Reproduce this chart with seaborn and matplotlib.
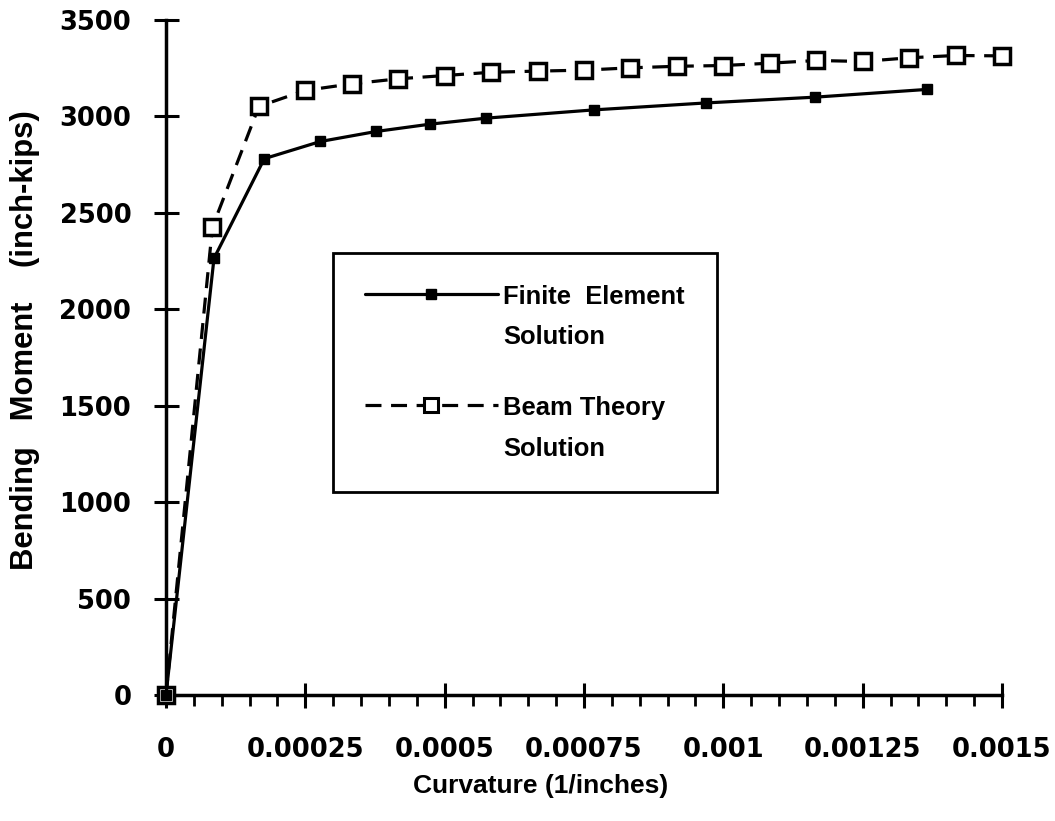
import matplotlib
matplotlib.use("Agg")
import matplotlib.pyplot as plt
from matplotlib.lines import Line2D
from matplotlib.legend_handler import HandlerLine2D
from matplotlib.ticker import MultipleLocator
from matplotlib.transforms import Affine2D
import seaborn as sns

# Finite element model: curvature (1/in) vs bending moment (in-kips)
fe_curvature = [0.0, 0.0000861, 0.0001764, 0.000277, 0.000377, 0.000474,
                0.000574, 0.000768, 0.000969, 0.001165, 0.001365]
fe_moment = [0, 2264, 2781, 2870, 2922, 2960, 2991, 3034, 3070, 3100, 3140]

# Beam theory prediction
beam_curvature = [0.0, 0.0000833, 0.0001667, 0.00025, 0.0003333, 0.0004167,
                  0.0005, 0.0005833, 0.0006667, 0.00075, 0.0008333, 0.0009167,
                  0.001, 0.0010833, 0.0011667, 0.00125, 0.0013333, 0.0014167,
                  0.0015]
beam_moment = [0, 2426, 3052, 3135, 3169, 3195, 3212, 3229, 3235, 3240, 3252,
               3260, 3264, 3276, 3290, 3285, 3304, 3316, 3314]

x_ticks = [0, 0.00025, 0.0005, 0.00075, 0.001, 0.00125, 0.0015]
x_tick_labels = ["0", "0.00025", "0.0005", "0.00075", "0.001", "0.00125", "0.0015"]
y_ticks = [0, 500, 1000, 1500, 2000, 2500, 3000, 3500]
y_tick_labels = ["0", "500", "1000", "1500", "2000", "2500", "3000", "3500"]

sns.set_style("ticks")
plt.rcParams["font.family"] = ["Liberation Sans", "DejaVu Sans"]
plt.rcParams["text.color"] = "black"
plt.rcParams["axes.labelcolor"] = "black"
plt.rcParams["xtick.color"] = "black"
plt.rcParams["ytick.color"] = "black"

fig = plt.figure(figsize=(10.55, 8.21), dpi=100)
ax = fig.add_axes([166 / 1055, 126 / 821, 836 / 1055, 675 / 821])

line_w = 2.3
dash = (0, (5, 3))
sns.lineplot(x=beam_curvature, y=beam_moment, ax=ax, sort=False, estimator=None,
             color="black", linewidth=line_w, linestyle=dash,
             marker="s", markersize=12, markerfacecolor="white",
             markeredgecolor="black", markeredgewidth=2.5, clip_on=False,
             zorder=3)
sns.lineplot(x=fe_curvature, y=fe_moment, ax=ax, sort=False, estimator=None,
             color="black", linewidth=line_w, linestyle="-",
             marker="s", markersize=7, markerfacecolor="black",
             markeredgecolor="black", markeredgewidth=1, clip_on=False,
             zorder=4)

ax.set_xlim(0, 0.0015)
ax.set_ylim(0, 3500)

tick_font = {"family": "DejaVu Sans", "weight": "bold", "size": 18.5}
ax.set_xticks(x_ticks)
ax.set_xticklabels(x_tick_labels, fontdict=tick_font, color="black")
ax.set_yticks(y_ticks)
ax.set_yticklabels(y_tick_labels, fontdict=tick_font, color="black")
ax.xaxis.set_minor_locator(MultipleLocator(0.00005))

ax.tick_params(axis="x", which="major", direction="inout", length=18, width=2.2,
               pad=21, color="black")
ax.tick_params(axis="x", which="minor", direction="out", length=8, width=2,
               color="black")
ax.tick_params(axis="y", which="major", direction="inout", length=18, width=2.2,
               pad=16, color="black")
ax.tick_params(axis="y", which="minor", left=False)

for side in ("top", "right"):
    ax.spines[side].set_visible(False)
for side in ("left", "bottom"):
    ax.spines[side].set_linewidth(2.5)
    ax.spines[side].set_color("black")

label_font = {"family": "Liberation Sans", "weight": "bold", "color": "black"}
ax.set_ylabel("Bending   Moment    (inch-kips)", fontsize=22.3, **label_font)
ax.yaxis.set_label_coords(-0.151, 0.526)
ax.set_xlabel("Curvature (1/inches)", fontsize=19, va="top", **label_font)
ax.xaxis.set_label_coords(0.4486, -0.117)


class RaisedLineHandler(HandlerLine2D):
    """Place the legend sample level with the first line of a two-line label."""

    def __init__(self, dy, **kw):
        super().__init__(**kw)
        self.dy = dy

    def create_artists(self, legend, orig_handle, xdescent, ydescent, width,
                       height, fontsize, trans):
        shifted = Affine2D().translate(0, self.dy) + trans
        return super().create_artists(legend, orig_handle, xdescent, ydescent,
                                      width, height, fontsize, shifted)


fe_handle = Line2D([], [], color="black", linewidth=line_w, linestyle="-",
                   marker="s", markersize=7, markerfacecolor="black",
                   markeredgecolor="black")
beam_handle = Line2D([], [], color="black", linewidth=line_w,
                     linestyle=dash, marker="s", markersize=10,
                     markerfacecolor="white", markeredgecolor="black",
                     markeredgewidth=2.2)

leg = ax.legend(
    [fe_handle, beam_handle],
    ["Finite  Element\nSolution", "Beam Theory\nSolution"],
    loc="upper left",
    bbox_to_anchor=(333 / 1055, 1 - 253 / 821),
    bbox_transform=fig.transFigure,
    prop={"family": "Liberation Sans", "weight": "bold", "size": 18.4},
    frameon=True, fancybox=False, framealpha=1, edgecolor="black",
    handlelength=5.2, handletextpad=0.2, labelspacing=1.85, borderpad=1.25,
    borderaxespad=0,
    handler_map={fe_handle: RaisedLineHandler(17), beam_handle: RaisedLineHandler(17)},
)
leg.get_frame().set_linewidth(2)
for t in leg.get_texts():
    t.set_linespacing(1.85)
    t.set_color("black")

fig.savefig("out.png", dpi=100, facecolor="white")
